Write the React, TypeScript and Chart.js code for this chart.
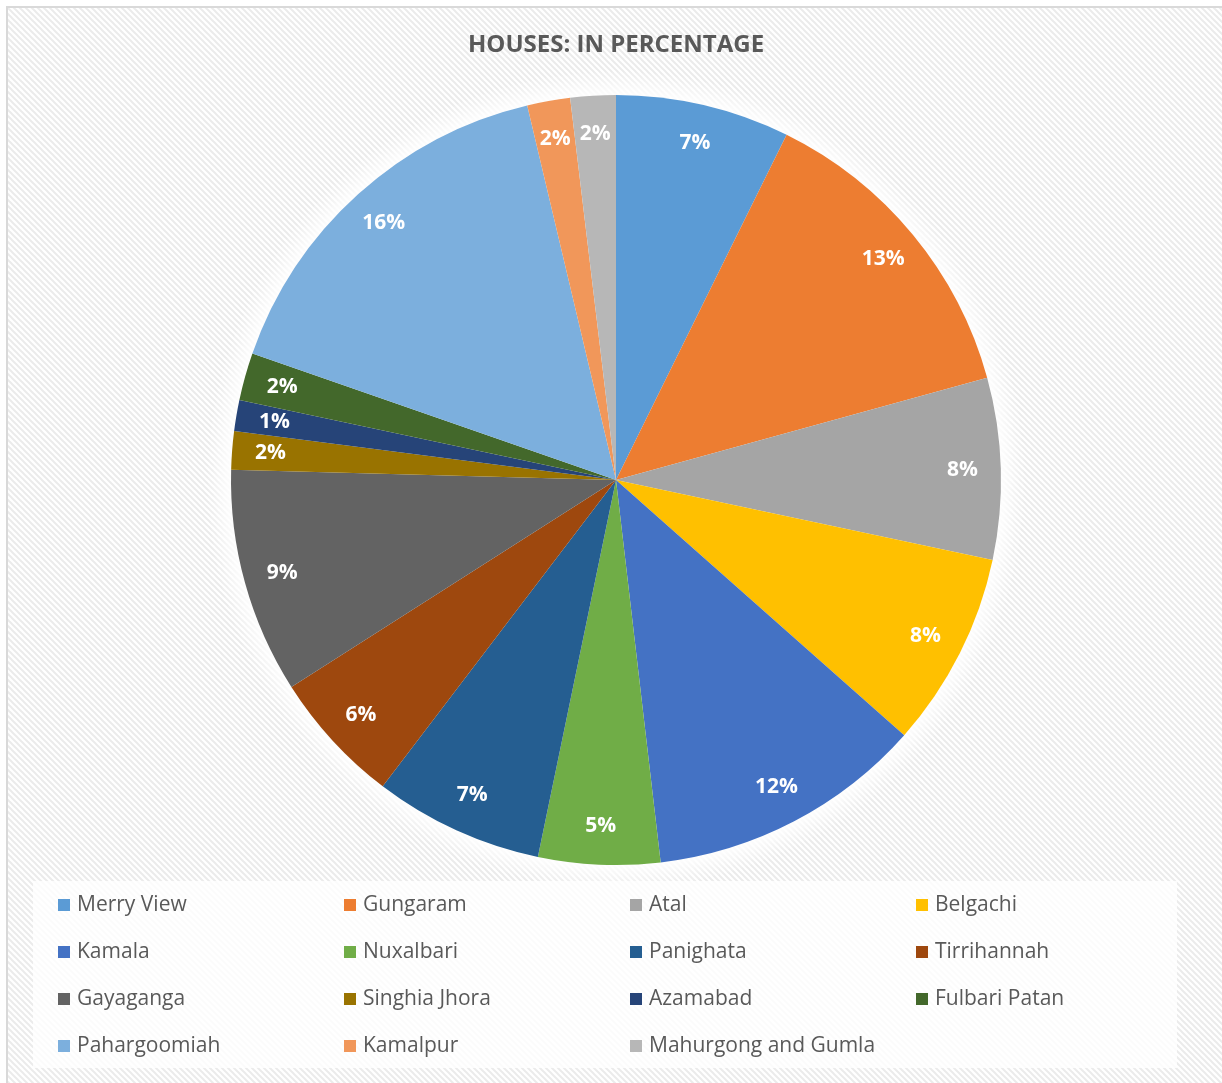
import React, { useEffect, useRef } from "react";
import { Chart, registerables } from "chart.js";

Chart.register(...registerables);

const labels = [
  "Merry View",
  "Gungaram",
  "Atal",
  "Belgachi",
  "Kamala",
  "Nuxalbari",
  "Panighata",
  "Tirrihannah",
  "Gayaganga",
  "Singhia Jhora",
  "Azamabad",
  "Fulbari Patan",
  "Pahargoomiah",
  "Kamalpur",
  "Mahurgong and Gumla",
];

const values = [7.3, 13.4, 7.6, 8.2, 11.6, 5.1, 7.1, 5.6, 9.45, 1.6, 1.3, 2.0, 15.95, 1.8, 1.9];

const colors = [
  "#5B9BD5",
  "#ED7D31",
  "#A5A5A5",
  "#FFC000",
  "#4472C4",
  "#70AD47",
  "#255E91",
  "#9E480E",
  "#636363",
  "#997300",
  "#264478",
  "#43682B",
  "#7CAFDD",
  "#F1975A",
  "#B7B7B7",
];

const title = "HOUSES: IN PERCENTAGE";

const W = 1222;
const H = 1083;
const FONT = "'Open Sans', 'Noto Sans', sans-serif";

function makePattern(ctx: CanvasRenderingContext2D) {
  const c = document.createElement("canvas");
  c.width = 6;
  c.height = 6;
  const p = c.getContext("2d")!;
  p.fillStyle = "#ffffff";
  p.fillRect(0, 0, 6, 6);
  p.strokeStyle = "#ebebeb";
  p.lineWidth = 2;
  p.beginPath();
  p.moveTo(-3, -3);
  p.lineTo(9, 9);
  p.moveTo(-3, 3);
  p.lineTo(3, 9);
  p.moveTo(3, -3);
  p.lineTo(9, 3);
  p.stroke();
  return ctx.createPattern(c, "repeat");
}

const decorPlugin = {
  id: "decor",
  beforeDraw(chart: any) {
    const ctx = chart.ctx as CanvasRenderingContext2D;
    ctx.save();
    ctx.fillStyle = "#ffffff";
    ctx.fillRect(0, 0, W, H);
    const pat = makePattern(ctx);
    if (pat) {
      ctx.fillStyle = pat;
      ctx.fillRect(8, 8, W - 8, H - 8);
    }
    ctx.strokeStyle = "#d9d9d9";
    ctx.lineWidth = 2;
    ctx.strokeRect(7, 7, W, H);
    // legend panel
    ctx.fillStyle = "rgba(255,255,255,0.8)";
    ctx.fillRect(33, 881, 1144, 187);
    // title
    ctx.fillStyle = "#595959";
    ctx.font = `bold 24px ${FONT}`;
    ctx.textAlign = "center";
    ctx.textBaseline = "middle";
    ctx.fillText(title, 616, 45);
    ctx.restore();
  },
  beforeDatasetsDraw(chart: any) {
    const meta = chart.getDatasetMeta(0);
    const arc = meta.data[0];
    if (!arc) return;
    const ctx = chart.ctx as CanvasRenderingContext2D;
    ctx.save();
    ctx.shadowColor = "rgba(255,255,255,1)";
    ctx.shadowBlur = 30;
    ctx.fillStyle = "#ffffff";
    for (let i = 0; i < 3; i++) {
      ctx.beginPath();
      ctx.arc(arc.x, arc.y, arc.outerRadius, 0, Math.PI * 2);
      ctx.fill();
    }
    ctx.restore();
  },
  afterDatasetsDraw(chart: any) {
    const meta = chart.getDatasetMeta(0);
    const data = chart.data.datasets[0].data as number[];
    const total = data.reduce((a: number, b: number) => a + b, 0);
    const ctx = chart.ctx as CanvasRenderingContext2D;
    ctx.save();
    ctx.fillStyle = "#ffffff";
    ctx.font = `bold 21px ${FONT}`;
    ctx.textAlign = "center";
    ctx.textBaseline = "middle";
    meta.data.forEach((el: any, i: number) => {
      const mid = (el.startAngle + el.endAngle) / 2;
      const r = el.outerRadius * 0.9;
      const x = el.x + Math.cos(mid) * r;
      const y = el.y + Math.sin(mid) * r;
      ctx.fillText(Math.round((data[i] / total) * 100) + "%", x, y);
    });
    ctx.restore();
  },
  afterDraw(chart: any) {
    const ctx = chart.ctx as CanvasRenderingContext2D;
    ctx.save();
    ctx.font = `21px ${FONT}`;
    ctx.textBaseline = "middle";
    ctx.textAlign = "left";
    const labs = chart.data.labels as string[];
    const cols = chart.data.datasets[0].backgroundColor as string[];
    labs.forEach((lab, i) => {
      const col = i % 4;
      const row = Math.floor(i / 4);
      const x = 58 + col * 286;
      const y = 905 + row * 47;
      ctx.fillStyle = cols[i];
      ctx.fillRect(x, y - 6, 12, 12);
      ctx.fillStyle = "#595959";
      ctx.fillText(lab, x + 19, y);
    });
    ctx.restore();
  },
};

export default function App() {
  const ref = useRef<HTMLCanvasElement>(null);
  useEffect(() => {
    document.body.style.margin = "0";
    const chart = new Chart(ref.current!, {
      type: "pie",
      data: {
        labels,
        datasets: [
          {
            data: values,
            backgroundColor: colors,
            borderWidth: 0,
          },
        ],
      },
      options: {
        responsive: false,
        animation: false,
        devicePixelRatio: 1,
        layout: { padding: { top: 95, bottom: 218, left: 231, right: 221 } },
        plugins: {
          legend: { display: false },
          tooltip: { enabled: false },
        },
      },
      plugins: [decorPlugin],
    });
    return () => chart.destroy();
  }, []);
  return (
    <div style={{ width: W, height: H }}>
      <canvas ref={ref} width={W} height={H} style={{ width: W, height: H, display: "block" }} />
    </div>
  );
}
